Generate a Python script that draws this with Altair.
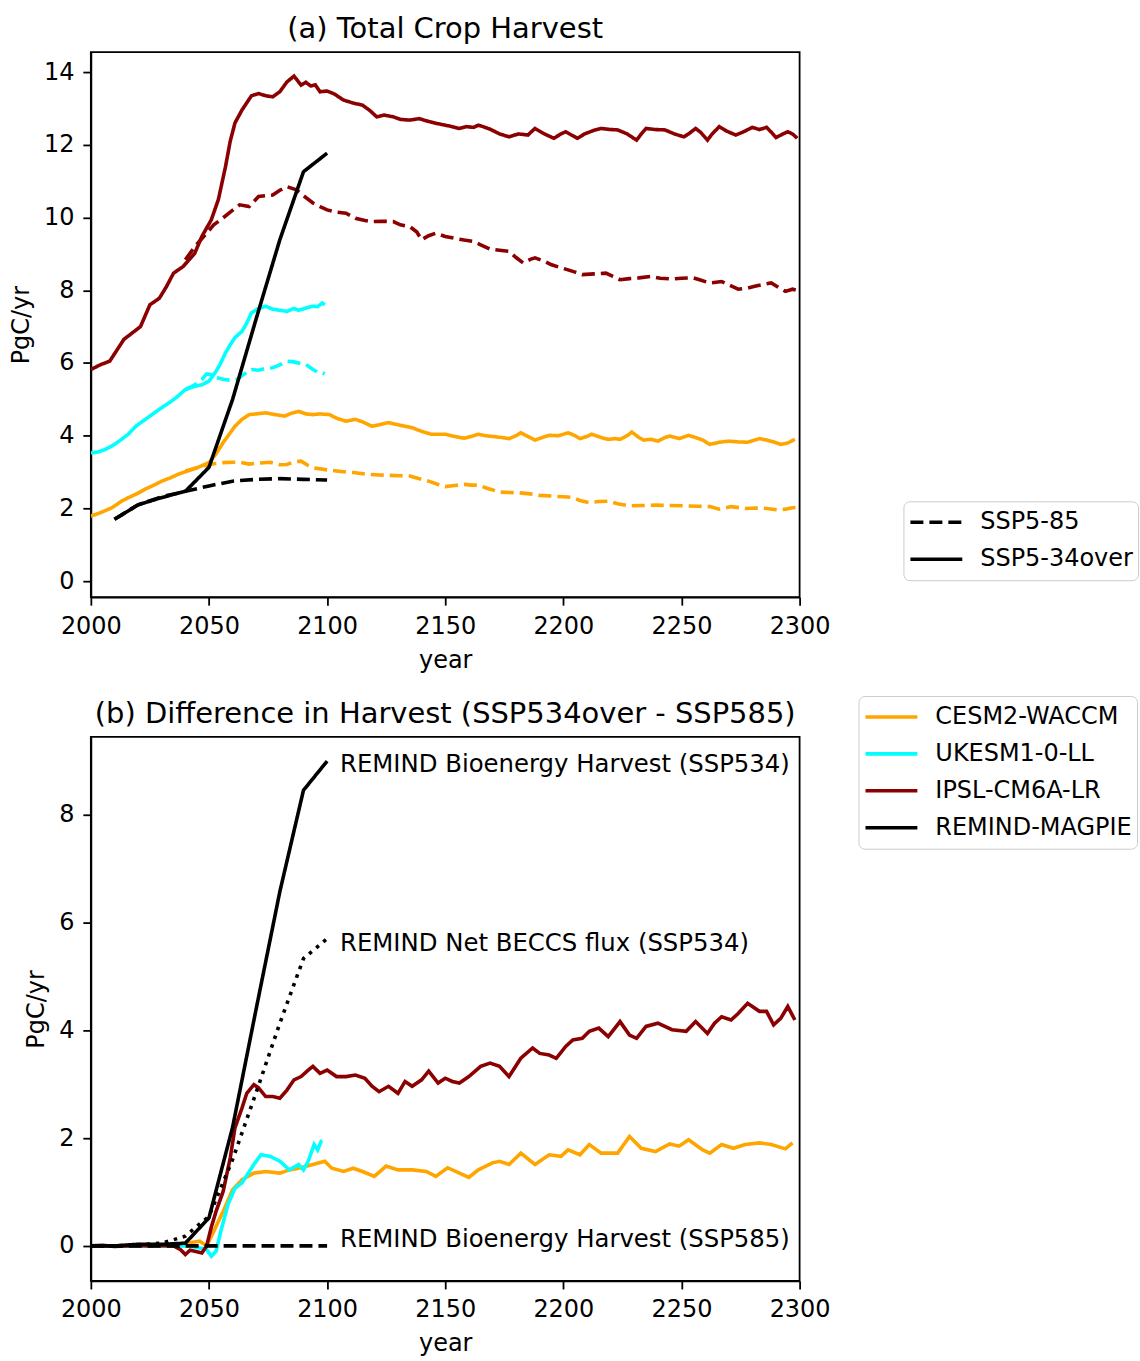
import altair as alt
import pandas as pd

# ---------------------------------------------------------------- labels
MODELS = ["CESM2-WACCM", "UKESM1-0-LL", "IPSL-CM6A-LR", "REMIND-MAGPIE"]
MODEL_COLORS = ["#ffa500", "#00ffff", "#8b0000", "#000000"]
SCENARIOS = ["SSP5-85", "SSP5-34over"]
X_TICKS = [2000, 2050, 2100, 2150, 2200, 2250, 2300]
Y_TICKS_A = [0, 2, 4, 6, 8, 10, 12, 14]
Y_TICKS_B = [0, 2, 4, 6, 8]

# ---------------------------------------------------------------- (a) total crop harvest, PgC/yr
CESM_534_YEARS = [2000, 2004, 2009, 2013, 2016, 2020, 2023, 2027, 2030, 2034, 2037, 2041, 2045, 2050,
                  2053, 2056, 2059, 2061, 2064, 2067, 2070, 2074, 2078, 2082, 2085, 2088, 2091, 2094,
                  2097, 2101, 2104, 2108, 2112, 2115, 2119, 2122, 2126, 2130, 2136, 2140, 2144, 2147,
                  2150, 2154, 2158, 2161, 2164, 2167, 2170, 2174, 2177, 2180, 2182, 2185, 2188, 2191,
                  2194, 2198, 2202, 2205, 2207, 2210, 2212, 2216, 2219, 2222, 2224, 2227, 2229, 2232,
                  2234, 2237, 2240, 2243, 2245, 2249, 2253, 2256, 2259, 2262, 2266, 2270, 2274, 2278,
                  2280, 2283, 2286, 2289, 2292, 2295, 2298]
CESM_534 = [1.79, 1.88, 2.02, 2.20, 2.30, 2.42, 2.53, 2.65, 2.75, 2.85, 2.94, 3.03, 3.12, 3.26,
            3.50, 3.81, 4.08, 4.26, 4.45, 4.58, 4.60, 4.63, 4.58, 4.54, 4.62, 4.67, 4.60, 4.58,
            4.60, 4.58, 4.48, 4.40, 4.45, 4.38, 4.26, 4.30, 4.36, 4.30, 4.22, 4.12, 4.04, 4.04,
            4.04, 3.98, 3.93, 3.98, 4.04, 4.00, 3.98, 3.95, 3.92, 4.00, 4.08, 3.98, 3.88, 3.95,
            4.01, 4.00, 4.08, 4.00, 3.92, 3.98, 4.04, 3.95, 3.90, 3.92, 3.90, 4.00, 4.10, 3.95,
            3.88, 3.90, 3.85, 3.95, 3.99, 3.92, 4.01, 3.95, 3.88, 3.76, 3.82, 3.85, 3.83, 3.82,
            3.86, 3.92, 3.88, 3.83, 3.76, 3.80, 3.90]

CESM_585_YEARS = [2040, 2045, 2050, 2056, 2060, 2063, 2067, 2070, 2076, 2080, 2083, 2086, 2089, 2092,
                  2094, 2100, 2104, 2108, 2112, 2117, 2122, 2126, 2131, 2135, 2140, 2143, 2147, 2150,
                  2154, 2158, 2161, 2164, 2168, 2173, 2177, 2181, 2186, 2190, 2195, 2200, 2204, 2207,
                  2211, 2215, 2219, 2223, 2228, 2233, 2239, 2245, 2252, 2257, 2262, 2266, 2271, 2277,
                  2282, 2286, 2291, 2294, 2297, 2299]
CESM_585 = [3.03, 3.12, 3.21, 3.26, 3.27, 3.27, 3.22, 3.24, 3.27, 3.20, 3.21, 3.28, 3.30, 3.18,
            3.12, 3.06, 3.03, 3.00, 2.98, 2.94, 2.92, 2.91, 2.90, 2.89, 2.80, 2.75, 2.66, 2.60,
            2.63, 2.66, 2.64, 2.64, 2.55, 2.45, 2.44, 2.43, 2.40, 2.36, 2.34, 2.32, 2.30, 2.22,
            2.16, 2.19, 2.20, 2.13, 2.07, 2.08, 2.09, 2.08, 2.07, 2.06, 2.05, 1.98, 2.05, 2.00,
            2.01, 2.00, 1.96, 1.98, 2.02, 2.03]

UKESM_534_YEARS = [2000, 2003, 2006, 2009, 2012, 2016, 2019, 2022, 2025, 2028, 2030, 2033, 2036, 2040,
                   2044, 2047, 2050, 2053, 2055, 2057, 2059, 2061, 2064, 2066, 2068, 2071, 2074, 2077,
                   2080, 2083, 2086, 2088, 2091, 2094, 2096, 2098, 2099]
UKESM_534 = [3.53, 3.55, 3.62, 3.72, 3.85, 4.05, 4.26, 4.40, 4.54, 4.68, 4.77, 4.90, 5.04, 5.27,
             5.36, 5.40, 5.50, 5.77, 6.00, 6.28, 6.50, 6.70, 6.87, 7.10, 7.38, 7.50, 7.56, 7.48,
             7.45, 7.42, 7.50, 7.45, 7.51, 7.56, 7.55, 7.65, 7.60]

UKESM_585_YEARS = [2040, 2044, 2047, 2049, 2051, 2053, 2056, 2059, 2062, 2065, 2068, 2071, 2074, 2077,
                   2080, 2083, 2086, 2089, 2091, 2094, 2096, 2098, 2099]
UKESM_585 = [5.27, 5.40, 5.55, 5.70, 5.68, 5.60, 5.55, 5.52, 5.55, 5.70, 5.82, 5.80, 5.85, 5.87,
             5.95, 6.05, 6.03, 5.98, 5.96, 5.82, 5.75, 5.73, 5.70]

IPSL_534_YEARS = [2000, 2004, 2008, 2011, 2014, 2018, 2021, 2025, 2029, 2032, 2035, 2039, 2044, 2047,
                  2051, 2054, 2057, 2059, 2061, 2064, 2068, 2071, 2074, 2077, 2080, 2083, 2086, 2089,
                  2091, 2093, 2095, 2097, 2100, 2103, 2107, 2111, 2115, 2118, 2121, 2124, 2128, 2131,
                  2135, 2139, 2143, 2147, 2150, 2153, 2156, 2159, 2162, 2164, 2166, 2169, 2173, 2177,
                  2181, 2185, 2188, 2192, 2196, 2199, 2201, 2204, 2206, 2209, 2213, 2216, 2220, 2223,
                  2227, 2231, 2233, 2235, 2239, 2243, 2247, 2251, 2253, 2256, 2258, 2261, 2263, 2266,
                  2269, 2273, 2276, 2280, 2283, 2286, 2288, 2290, 2293, 2295, 2297, 2299]
IPSL_534 = [5.82, 5.95, 6.05, 6.35, 6.65, 6.85, 7.00, 7.60, 7.78, 8.10, 8.47, 8.65, 9.02, 9.48,
            9.94, 10.50, 11.40, 12.10, 12.60, 12.96, 13.35, 13.41, 13.35, 13.32, 13.46, 13.73, 13.89, 13.64,
            13.72, 13.62, 13.65, 13.46, 13.48, 13.40, 13.23, 13.15, 13.09, 12.95, 12.77, 12.82, 12.77, 12.70,
            12.68, 12.72, 12.64, 12.58, 12.54, 12.50, 12.45, 12.50, 12.48, 12.54, 12.50, 12.43, 12.30, 12.22,
            12.30, 12.27, 12.45, 12.30, 12.18, 12.30, 12.36, 12.25, 12.18, 12.30, 12.40, 12.45, 12.42, 12.41,
            12.30, 12.13, 12.30, 12.45, 12.42, 12.41, 12.30, 12.22, 12.30, 12.45, 12.35, 12.13, 12.30, 12.50,
            12.38, 12.27, 12.35, 12.48, 12.42, 12.48, 12.35, 12.20, 12.30, 12.36, 12.30, 12.18]

IPSL_585_YEARS = [2040, 2044, 2049, 2052, 2055, 2059, 2063, 2067, 2071, 2074, 2077, 2080, 2083, 2087,
                  2090, 2094, 2097, 2100, 2104, 2108, 2112, 2116, 2119, 2123, 2128, 2131, 2135, 2138,
                  2140, 2143, 2146, 2150, 2154, 2158, 2162, 2165, 2169, 2173, 2177, 2180, 2183, 2186,
                  2188, 2192, 2195, 2199, 2202, 2205, 2208, 2213, 2218, 2221, 2224, 2228, 2232, 2237,
                  2241, 2246, 2250, 2255, 2258, 2262, 2267, 2271, 2274, 2278, 2281, 2285, 2288, 2291,
                  2294, 2297, 2299]
IPSL_585 = [8.84, 9.20, 9.57, 9.80, 9.94, 10.15, 10.35, 10.30, 10.58, 10.60, 10.62, 10.75, 10.85, 10.76,
            10.60, 10.40, 10.30, 10.21, 10.15, 10.12, 9.98, 9.92, 9.89, 9.90, 9.89, 9.80, 9.75, 9.60,
            9.39, 9.50, 9.57, 9.48, 9.43, 9.38, 9.34, 9.25, 9.13, 9.10, 9.07, 8.90, 8.75, 8.85,
            8.89, 8.80, 8.70, 8.62, 8.56, 8.50, 8.43, 8.45, 8.47, 8.38, 8.29, 8.32, 8.34, 8.38,
            8.33, 8.31, 8.33, 8.34, 8.28, 8.20, 8.24, 8.12, 8.03, 8.06, 8.11, 8.17, 8.20, 8.08,
            7.97, 8.03, 8.00]

REMIND_YEARS_A = [2010, 2020, 2030, 2040, 2050, 2060, 2070, 2080, 2090, 2100]
REMIND_534 = [1.70, 2.10, 2.30, 2.47, 3.13, 5.00, 7.22, 9.39, 11.26, 11.77]
REMIND_585 = [1.70, 2.10, 2.32, 2.47, 2.62, 2.75, 2.80, 2.82, 2.80, 2.78]

# ---------------------------------------------------------------- (b) SSP534over - SSP585, PgC/yr
CESM_DIFF_YEARS = [2000, 2010, 2020, 2030, 2035, 2040, 2042, 2046, 2049, 2052, 2056, 2060, 2064, 2069,
                   2074, 2080, 2084, 2088, 2094, 2099, 2102, 2107, 2111, 2115, 2120, 2125, 2130, 2136,
                   2142, 2146, 2151, 2156, 2160, 2164, 2170, 2173, 2177, 2182, 2188, 2194, 2199, 2202,
                   2207, 2211, 2216, 2223, 2228, 2233, 2239, 2245, 2249, 2253, 2259, 2262, 2267, 2272,
                   2277, 2283, 2288, 2294, 2297]
CESM_DIFF = [0.00, 0.00, 0.01, 0.00, 0.02, 0.05, 0.06, 0.09, 0.00, 0.27, 0.64, 1.04, 1.23, 1.35,
             1.38, 1.35, 1.41, 1.44, 1.51, 1.57, 1.44, 1.38, 1.44, 1.38, 1.29, 1.48, 1.41, 1.41,
             1.38, 1.29, 1.45, 1.35, 1.27, 1.41, 1.54, 1.57, 1.51, 1.72, 1.51, 1.69, 1.66, 1.78,
             1.69, 1.88, 1.72, 1.72, 2.03, 1.81, 1.75, 1.89, 1.85, 1.97, 1.78, 1.72, 1.88, 1.81,
             1.88, 1.91, 1.88, 1.80, 1.91]

UKESM_DIFF_YEARS = [2000, 2010, 2020, 2030, 2035, 2042, 2046, 2049, 2051, 2053, 2055, 2058, 2061, 2064,
                    2069, 2072, 2076, 2080, 2084, 2088, 2090, 2092, 2094.5, 2096, 2097.5, 2098]
UKESM_DIFF = [0.00, 0.00, 0.00, 0.00, 0.00, 0.00, -0.04, -0.07, -0.19, -0.10, 0.27, 0.76, 1.07, 1.17,
              1.51, 1.69, 1.66, 1.57, 1.41, 1.51, 1.41, 1.57, 1.88, 1.78, 1.94, 1.95]

IPSL_DIFF_YEARS = [2000, 2005, 2010, 2015, 2020, 2025, 2030, 2035, 2038, 2040, 2042, 2044, 2047, 2049,
                   2051, 2053, 2056, 2059, 2061, 2064, 2066, 2069, 2071, 2074, 2077, 2080, 2083, 2086,
                   2089, 2092, 2094, 2097, 2100, 2104, 2108, 2112, 2116, 2119, 2122, 2126, 2130, 2133,
                   2136, 2140, 2143, 2147, 2150, 2153, 2156, 2160, 2165, 2169, 2173, 2177, 2182, 2187,
                   2190, 2194, 2197, 2201, 2204, 2208, 2211, 2215, 2219, 2224, 2228, 2231, 2235, 2240,
                   2246, 2252, 2256, 2261, 2264, 2267, 2271, 2274, 2278, 2283, 2286, 2289, 2292, 2295,
                   2298]
IPSL_DIFF = [0.00, 0.01, -0.01, 0.00, 0.01, 0.00, 0.01, 0.00, -0.07, -0.16, -0.08, -0.10, -0.13, 0.00,
             0.35, 0.64, 1.01, 1.63, 2.19, 2.56, 2.83, 2.99, 2.93, 2.77, 2.77, 2.74, 2.89, 3.08,
             3.14, 3.26, 3.33, 3.20, 3.26, 3.14, 3.14, 3.17, 3.11, 2.96, 2.86, 2.96, 2.83, 3.05,
             2.96, 3.08, 3.24, 3.02, 3.11, 3.05, 3.02, 3.14, 3.33, 3.39, 3.33, 3.14, 3.48, 3.67,
             3.57, 3.54, 3.48, 3.70, 3.82, 3.85, 3.98, 4.04, 3.88, 4.16, 3.91, 3.85, 4.07, 4.13,
             4.01, 3.98, 4.16, 3.94, 4.13, 4.25, 4.19, 4.31, 4.50, 4.35, 4.35, 4.10, 4.22, 4.44,
             4.19]

REMIND_YEARS_B = [2000, 2010, 2020, 2030, 2040, 2050, 2060, 2070, 2080, 2090, 2100]
REMIND_BIO_534 = [0.00, 0.00, 0.03, 0.03, 0.05, 0.52, 2.20, 4.40, 6.57, 8.45, 8.99]
REMIND_BECCS_534 = [0.00, 0.00, 0.02, 0.05, 0.18, 0.55, 1.60, 2.85, 4.13, 5.33, 5.70]
REMIND_BIO_585 = [0.00, 0.00, 0.00, 0.00, 0.00, 0.00, 0.00, 0.00, 0.00, 0.00, 0.00]

REMIND_LABELS = ["REMIND Bioenergy Harvest (SSP534)",
                 "REMIND Net BECCS flux (SSP534)",
                 "REMIND Bioenergy Harvest (SSP585)"]
REMIND_LABEL_YEAR = [2100, 2100, 2100]
REMIND_LABEL_VALUE = [8.92, 5.60, 0.11]

FONT = "DejaVu Sans"
FS = 24
LW = 3.6
DASH = [13, 6]
SOLID = [1, 0]
DOT = [3.5, 5.8]


def frame(model, scenario, years, values):
    return pd.DataFrame({"year": years, "value": values, "model": model, "scenario": scenario})


x_enc = alt.X("year:Q",
              scale=alt.Scale(domain=[2000, 2300], nice=False, zero=False),
              axis=alt.Axis(values=X_TICKS, format="d", title="year"))


def legend_style(x, y, **extra):
    return alt.Legend(title=None, orient="none", legendX=x, legendY=y,
                      symbolType="stroke", symbolSize=2700, symbolStrokeWidth=LW,
                      labelFont=FONT, labelFontSize=FS, labelColor="black", labelOffset=16,
                      labelLimit=0, padding=5, clipHeight=32, rowPadding=5,
                      strokeColor="#cccccc", fillColor="white", cornerRadius=6, **extra)


# ---------------------------------------------------------------- panel (a)
model_585 = pd.concat([frame("CESM2-WACCM", "SSP5-85", CESM_585_YEARS, CESM_585),
                       frame("UKESM1-0-LL", "SSP5-85", UKESM_585_YEARS, UKESM_585),
                       frame("IPSL-CM6A-LR", "SSP5-85", IPSL_585_YEARS, IPSL_585)])
model_534 = pd.concat([frame("CESM2-WACCM", "SSP5-34over", CESM_534_YEARS, CESM_534),
                       frame("UKESM1-0-LL", "SSP5-34over", UKESM_534_YEARS, UKESM_534),
                       frame("IPSL-CM6A-LR", "SSP5-34over", IPSL_534_YEARS, IPSL_534)])
remind_585 = frame("REMIND-MAGPIE", "SSP5-85", REMIND_YEARS_A, REMIND_585)
remind_534 = frame("REMIND-MAGPIE", "SSP5-34over", REMIND_YEARS_A, REMIND_534)

y_a = alt.Y("value:Q",
            scale=alt.Scale(domain=[-0.44, 14.55], nice=False, zero=False),
            axis=alt.Axis(values=Y_TICKS_A, title="PgC/yr"))
# the model colour key sits below panel (a), beside the title of panel (b)
color_a = alt.Color("model:N", scale=alt.Scale(domain=MODELS, range=MODEL_COLORS),
                    legend=legend_style(769, 645))
dash_a = alt.StrokeDash("scenario:N",
                        scale=alt.Scale(domain=SCENARIOS, range=[DASH, SOLID]),
                        legend=legend_style(814, 450, symbolStrokeColor="black"))


def line_a(df):
    return alt.Chart(df).mark_line(strokeWidth=LW, clip=True).encode(
        x=x_enc, y=y_a, color=color_a, strokeDash=dash_a, detail="model:N")


panel_a = alt.layer(
    line_a(model_585), line_a(model_534), line_a(remind_585), line_a(remind_534)
).properties(width=710, height=546, title="(a) Total Crop Harvest")

# ---------------------------------------------------------------- panel (b)
y_b = alt.Y("value:Q",
            scale=alt.Scale(domain=[-0.65, 9.44], nice=False, zero=False),
            axis=alt.Axis(values=Y_TICKS_B, title="PgC/yr"))
color_b = alt.Color("model:N", scale=alt.Scale(domain=MODELS, range=MODEL_COLORS), legend=None)

diff_layers = [
    alt.Chart(frame(m, "diff", yrs, vals)).mark_line(strokeWidth=LW, clip=True).encode(
        x=x_enc, y=y_b, color=color_b)
    for m, yrs, vals in [("CESM2-WACCM", CESM_DIFF_YEARS, CESM_DIFF),
                         ("UKESM1-0-LL", UKESM_DIFF_YEARS, UKESM_DIFF),
                         ("IPSL-CM6A-LR", IPSL_DIFF_YEARS, IPSL_DIFF)]
]


def remind_line(values, dash):
    return alt.Chart(frame("REMIND-MAGPIE", "diff", REMIND_YEARS_B, values)).mark_line(
        strokeWidth=LW, color="black", strokeDash=dash, clip=True).encode(x=x_enc, y=y_b)


labels_b = alt.Chart(pd.DataFrame({"year": REMIND_LABEL_YEAR, "value": REMIND_LABEL_VALUE,
                                   "label": REMIND_LABELS})).mark_text(
    align="left", baseline="middle", dx=13, font=FONT, fontSize=24.4, color="black"
).encode(x=x_enc, y=y_b, text="label:N")

panel_b = alt.layer(
    *diff_layers,
    remind_line(REMIND_BIO_585, DASH),
    remind_line(REMIND_BECCS_534, DOT),
    remind_line(REMIND_BIO_534, SOLID),
    labels_b,
).properties(width=710, height=545, title="(b) Difference in Harvest (SSP534over - SSP585)")

chart = alt.vconcat(panel_a, panel_b, spacing=140, bounds="flush").resolve_scale(
    color="independent", strokeDash="independent"
).resolve_legend(
    color="independent", strokeDash="independent"
).properties(
    padding={"left": 8, "top": 13, "right": 0, "bottom": 5},
    background="white"
).configure_view(
    stroke="black", strokeWidth=1.8
).configure_axis(
    grid=False, domainColor="black", domainWidth=1.8, tickColor="black", tickWidth=1.8,
    tickSize=8, labelFont=FONT, labelFontSize=FS, labelColor="black", labelPadding=9,
    labelFlush=False, labelOverlap=False, titleFont=FONT, titleFontSize=FS,
    titleFontWeight="normal", titleColor="black"
).configure_axisX(
    titlePadding=10
).configure_axisY(
    titlePadding=10
).configure_title(
    font=FONT, fontSize=29, fontWeight="normal", color="black", anchor="middle", offset=8
)

chart.save("out.html", embed_options={"renderer": "svg", "actions": False})
